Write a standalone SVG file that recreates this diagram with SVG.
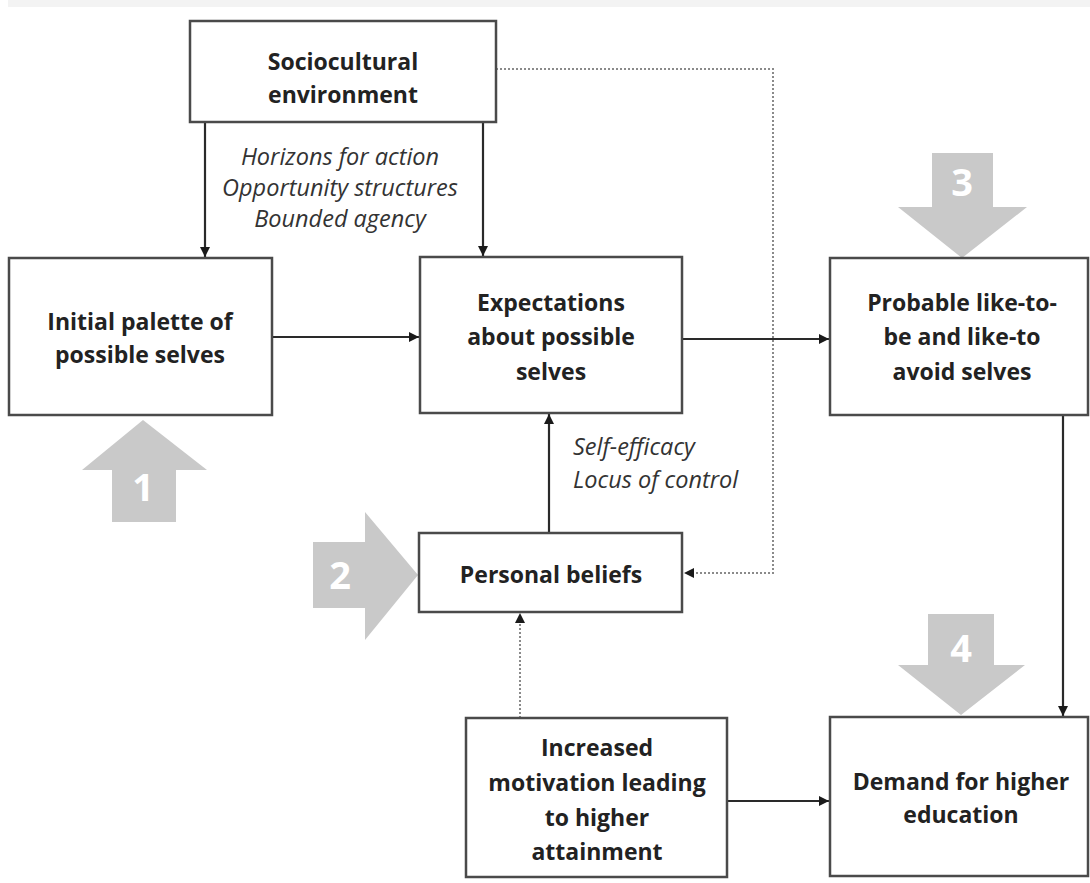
<svg xmlns="http://www.w3.org/2000/svg" width="1090" height="883" viewBox="0 0 1090 883">
<defs>
<marker id="ah" viewBox="0 0 10 10" refX="10" refY="5" markerWidth="10" markerHeight="10" markerUnits="userSpaceOnUse" orient="auto">
<path d="M0,0 L10,5 L0,10 z" fill="#1a1a1a"/>
</marker>
<style>
.box{fill:#fff;stroke:#4a4a4a;stroke-width:2.5}
.t{font-family:"Open Sans","Liberation Sans",sans-serif;font-weight:700;font-size:23px;fill:#222;text-anchor:middle}
.i{font-family:"Open Sans","Liberation Sans",sans-serif;font-style:italic;font-size:23.5px;fill:#333}
.c{fill:none;stroke:#2a2a2a;stroke-width:2.2}
.d{fill:none;stroke:#8a8a8a;stroke-width:2;stroke-dasharray:2 2}
.big{fill:#c9c9c9}
.n{font-family:"Open Sans","Liberation Sans",sans-serif;font-weight:700;font-size:38px;fill:#fff;text-anchor:middle}
</style>
</defs>
<rect x="8" y="0" width="1082" height="7" fill="#f3f3f3"/>

<g id="bigarrows">
<g id="arrow1"><path class="big" d="M112,522 L176,522 L176,470 L207,470 L143,420 L82,470 L112,470 z"/><text class="n" x="143" y="501">1</text></g>
<g id="arrow2"><path class="big" d="M313,542 L365,542 L365,512 L418,575 L365,640 L365,608 L313,608 z"/><text class="n" x="340" y="589">2</text></g>
<g id="arrow3"><path class="big" d="M932,153 L993,153 L993,207 L1027,207 L962,258 L898,207 L932,207 z"/><text class="n" x="962" y="196">3</text></g>
<g id="arrow4"><path class="big" d="M928,614 L994,614 L994,665 L1025,665 L961,715 L898,665 L928,665 z"/><text class="n" x="961" y="662">4</text></g>
</g>

<g id="connectors">
<path class="c" d="M205,122 L205,257" marker-end="url(#ah)"/>
<path class="c" d="M483,122 L483,256" marker-end="url(#ah)"/>
<path class="c" d="M272,337 L419,337" marker-end="url(#ah)"/>
<path class="c" d="M682,339 L829,339" marker-end="url(#ah)"/>
<path class="c" d="M549,533 L549,414" marker-end="url(#ah)"/>
<path class="c" d="M1063,415 L1063,716" marker-end="url(#ah)"/>
<path class="c" d="M727,801 L829,801" marker-end="url(#ah)"/>
<path class="d" d="M496,69 L773,69 L773,573 L694,573"/>
<path d="M684,573 L694,568 L694,578 z" fill="#1a1a1a"/>
<path class="d" d="M520,718 L520,623"/>
<path d="M520,613 L515,623 L525,623 z" fill="#1a1a1a"/>
</g>

<g id="labels">
<text class="i" text-anchor="middle" x="340" y="165">Horizons for action</text>
<text class="i" text-anchor="middle" x="340" y="196">Opportunity structures</text>
<text class="i" text-anchor="middle" x="340" y="227">Bounded agency</text>
<text class="i" x="573" y="455">Self-efficacy</text>
<text class="i" x="573" y="488">Locus of control</text>
</g>

<g id="sociocultural"><rect class="box" x="190" y="21" width="306" height="101"/>
<text class="t" x="343" y="70">Sociocultural</text><text class="t" x="343" y="103">environment</text></g>

<g id="initial"><rect class="box" x="9" y="258" width="263" height="157"/>
<text class="t" x="140" y="330">Initial palette of</text><text class="t" x="140" y="363">possible selves</text></g>

<g id="expectations"><rect class="box" x="420" y="257" width="262" height="156"/>
<text class="t" x="551" y="311">Expectations</text><text class="t" x="551" y="345">about possible</text><text class="t" x="551" y="380">selves</text></g>

<g id="probable"><rect class="box" x="830" y="258" width="258" height="157"/>
<text class="t" x="962" y="311">Probable like-to-</text><text class="t" x="962" y="345">be and like-to</text><text class="t" x="962" y="380">avoid selves</text></g>

<g id="personal"><rect class="box" x="419" y="533" width="263" height="79"/>
<text class="t" x="551" y="583">Personal beliefs</text></g>

<g id="motivation"><rect class="box" x="466" y="718" width="261" height="159"/>
<text class="t" x="597" y="756">Increased</text><text class="t" x="597" y="791">motivation leading</text><text class="t" x="597" y="826">to higher</text><text class="t" x="597" y="860">attainment</text></g>

<g id="demand"><rect class="box" x="830" y="717" width="258" height="159"/>
<text class="t" x="961" y="790">Demand for higher</text><text class="t" x="961" y="823">education</text></g>
</svg>
